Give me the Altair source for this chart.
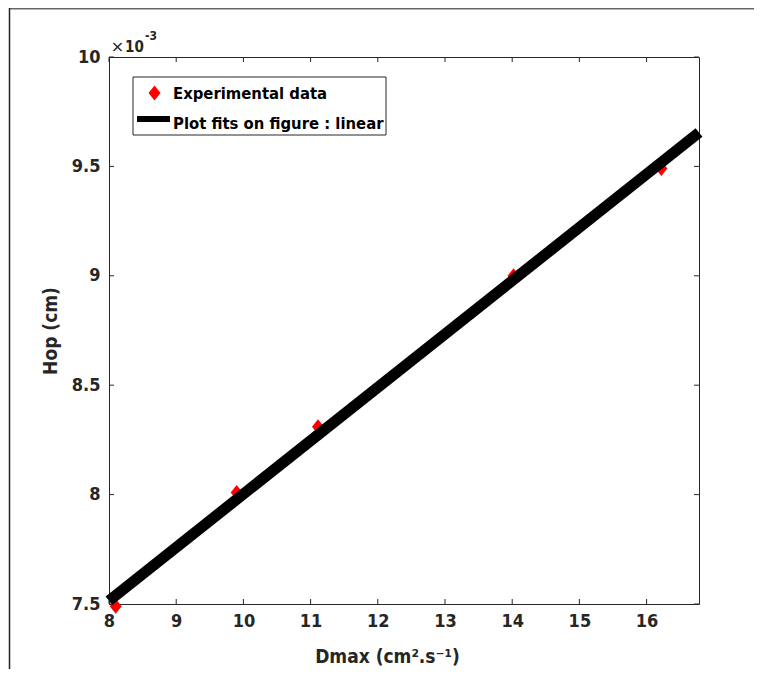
import altair as alt
import pandas as pd

# ---- data ----
dmax = [8.10, 9.90, 11.11, 14.02, 16.22]          # cm^2.s^-1
hop = [7.49, 8.01, 8.31, 9.00, 9.49]              # x 10^-3 cm
fit_x = [8.0, 16.78]
fit_y = [7.515, 9.655]
x_ticks = [8, 9, 10, 11, 12, 13, 14, 15, 16]
y_ticks = [7.5, 8.0, 8.5, 9.0, 9.5, 10.0]
x_domain = [8.0, 16.78]
y_domain = [7.5, 10.0]
legend_labels = ["Experimental data", "Plot fits on figure : linear"]
x_title = "Dmax (cm².s⁻¹)"
y_title = "Hop (cm)"

# ---- styling ----
W, H = 590, 547
FONT = "DejaVu Sans Condensed, DejaVu Sans, sans-serif"
INK = "#262626"
DIAMOND = "M0,-1L0.8,0L0,1L-0.8,0Z"

pts_df = pd.DataFrame({"dmax": dmax, "hop": hop})
fit_df = pd.DataFrame({"dmax": fit_x, "hop": fit_y})
xt_df = pd.DataFrame({"dmax": x_ticks})
yt_df = pd.DataFrame({"hop": y_ticks})
one = pd.DataFrame({"k": [0]})

xscale = alt.Scale(domain=x_domain, nice=False, zero=False)
yscale = alt.Scale(domain=y_domain, nice=False, zero=False)

x_axis = alt.Axis(values=x_ticks, format="~g", title=x_title, grid=False, ticks=False,
                  domain=False, labelPadding=8, labelFlush=False, titlePadding=17,
                  titleX=278)
y_axis = alt.Axis(values=y_ticks, format=".1~f", title=y_title, grid=False, ticks=False,
                  domain=False, labelPadding=9, labelFlush=False, titlePadding=11)

X = alt.X("dmax:Q", scale=xscale, axis=x_axis)
Y = alt.Y("hop:Q", scale=yscale, axis=y_axis)

points = alt.Chart(pts_df).mark_point(
    shape=DIAMOND, filled=True, color="#ff0000", size=225, opacity=1
).encode(x=X, y=Y)

fit = alt.Chart(fit_df).mark_line(
    color="black", strokeWidth=11, strokeCap="butt", clip=False
).encode(x=X, y=Y)

TL = 5
tick_style = dict(color=INK, strokeWidth=1)
xt_bottom = alt.Chart(xt_df).mark_rule(**tick_style).encode(
    x=X, y=alt.value(H), y2=alt.value(H - TL))
xt_top = alt.Chart(xt_df).mark_rule(**tick_style).encode(
    x=X, y=alt.value(0), y2=alt.value(TL))
yt_left = alt.Chart(yt_df).mark_rule(**tick_style).encode(
    y=Y, x=alt.value(0), x2=alt.value(TL))
yt_right = alt.Chart(yt_df).mark_rule(**tick_style).encode(
    y=Y, x=alt.value(W), x2=alt.value(W - TL))

# ---- multiplier "x10^-3" ----
mult_x = alt.Chart(one).mark_text(
    text="×", font="DejaVu Sans", fontSize=16, color=INK, align="center", baseline="alphabetic"
).encode(x=alt.value(8.5), y=alt.value(-5))
mult_10 = alt.Chart(one).mark_text(
    text="10", font=FONT, fontWeight="bold", fontSize=15, color=INK, align="left",
    baseline="alphabetic"
).encode(x=alt.value(16), y=alt.value(-5))
mult_exp = alt.Chart(one).mark_text(
    text="-3", font=FONT, fontWeight="bold", fontSize=12, color=INK, align="left",
    baseline="alphabetic"
).encode(x=alt.value(36), y=alt.value(-17))

# ---- legend ----
leg_box = alt.Chart(one).mark_rect(fill="white", stroke=INK, strokeWidth=1).encode(
    x=alt.value(24), x2=alt.value(277), y=alt.value(20), y2=alt.value(78))
leg_pt = alt.Chart(one).mark_point(
    shape=DIAMOND, filled=True, color="#ff0000", size=225, opacity=1
).encode(x=alt.value(45.5), y=alt.value(36))
leg_line = alt.Chart(one).mark_rule(color="black", strokeWidth=6, strokeCap="butt").encode(
    x=alt.value(28), x2=alt.value(61), y=alt.value(62))
leg_t1 = alt.Chart(one).mark_text(
    text=legend_labels[0], font=FONT, fontWeight="bold", fontSize=16.5, color="black",
    align="left", baseline="alphabetic"
).encode(x=alt.value(64), y=alt.value(42))
leg_t2 = alt.Chart(one).mark_text(
    text=legend_labels[1], font=FONT, fontWeight="bold", fontSize=16.5, color="black",
    align="left", baseline="alphabetic"
).encode(x=alt.value(64), y=alt.value(71.5))

# ---- outer figure frame (top and left edges) ----
frame_top = alt.Chart(one).mark_rule(color="#666666", strokeWidth=1.5).encode(
    x=alt.value(-100), x2=alt.value(W + 70), y=alt.value(-48.2))
frame_left = alt.Chart(one).mark_rule(color="#222222", strokeWidth=1.5).encode(
    x=alt.value(-99.5), y=alt.value(-49), y2=alt.value(H + 70))

chart = alt.layer(
    points, fit, xt_bottom, xt_top, yt_left, yt_right,
    mult_x, mult_10, mult_exp,
    leg_box, leg_pt, leg_line, leg_t1, leg_t2,
    frame_top, frame_left,
).properties(
    width=W, height=H,
    autosize=alt.AutoSizeParams(type="none"),
    padding={"left": 101, "top": 49, "right": 55, "bottom": 65},
    background="white",
).configure_view(
    stroke=INK, strokeWidth=1
).configure_axis(
    labelFont=FONT, labelFontWeight="bold", labelFontSize=18, labelColor=INK,
    titleFont=FONT, titleFontWeight="bold", titleFontSize=19, titleColor=INK,
)

chart.save("out.html", embed_options={"renderer": "svg", "actions": False})
